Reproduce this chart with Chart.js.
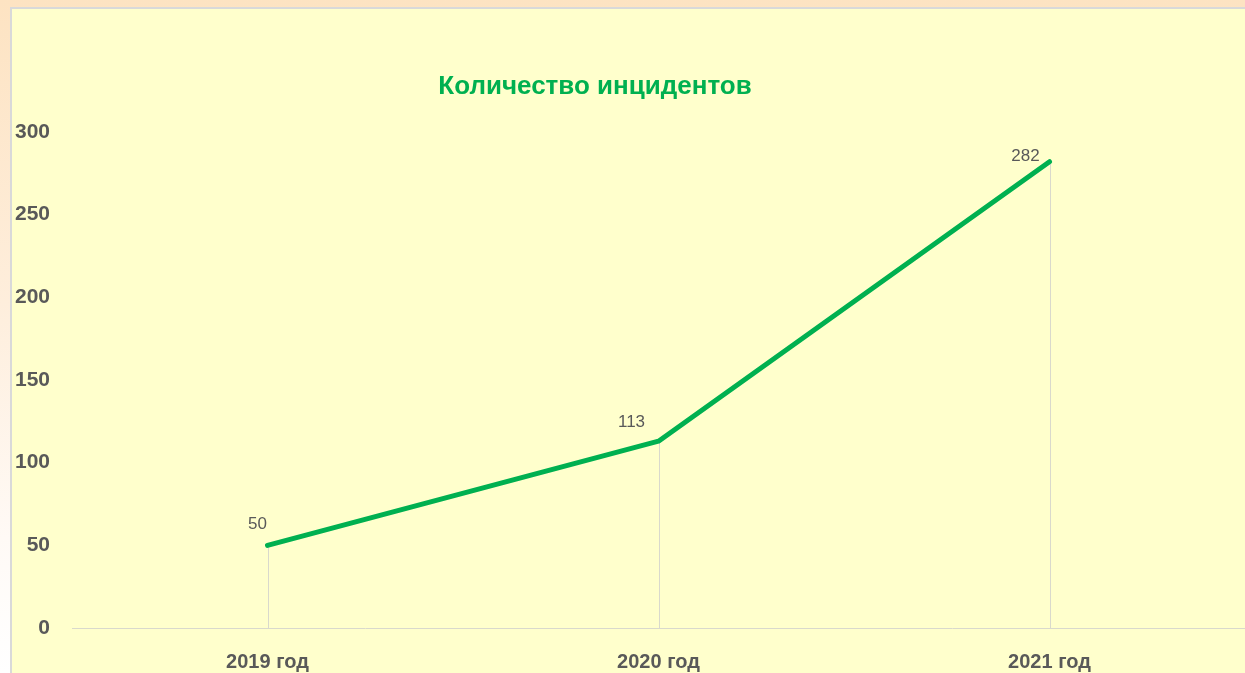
<!DOCTYPE html>
<html>
<head>
<meta charset="utf-8">
<script src="https://cdn.jsdelivr.net/npm/chart.js@4/dist/chart.umd.min.js"></script>
<style>
  html, body { margin: 0; padding: 0; }
  body {
    width: 1245px; height: 673px; overflow: hidden; position: relative;
    background: linear-gradient(to bottom, #FDE3C2 0%, #FEEEDC 45%, #FFFAF6 80%, #FFFFFF 100%);
  }
  #frame {
    position: absolute; left: 10px; top: 7px; width: 1240px; height: 670px;
    border-top: 2px solid #D9D9D9; border-left: 2px solid #D9D9D9;
    background: #FFFFCC;
  }
  #c { position: absolute; left: 12px; top: 9px; }
</style>
</head>
<body>
<div id="frame"></div>
<canvas id="c" width="1233" height="664"></canvas>
<script>
const titleText = 'Количество инцидентов';
const categories = ['2019 год', '2020 год', '2021 год'];
const incidents = [50, 113, 282];
const yTicks = [0, 50, 100, 150, 200, 250, 300];

const GREEN = '#00B050';
const GRAY = '#595959';
const LINE_GRAY = '#D9D9CC';

const dropLines = {
  id: 'dropLines',
  beforeDatasetsDraw(chart) {
    const { ctx, chartArea } = chart;
    const meta = chart.getDatasetMeta(0);
    ctx.save();
    ctx.strokeStyle = LINE_GRAY;
    ctx.lineWidth = 1;
    meta.data.forEach(p => {
      const x = Math.round(p.x) + 0.5;
      ctx.beginPath();
      ctx.moveTo(x, p.y);
      ctx.lineTo(x, chartArea.bottom);
      ctx.stroke();
    });
    ctx.restore();
  }
};

const labelOffsets = [[-10, -21], [-27, -19], [-24, -5]];
const dataLabels = {
  id: 'dataLabels',
  afterDatasetsDraw(chart) {
    const { ctx } = chart;
    const meta = chart.getDatasetMeta(0);
    ctx.save();
    ctx.fillStyle = GRAY;
    ctx.font = '17px "Liberation Sans", Arial, sans-serif';
    ctx.textAlign = 'center';
    ctx.textBaseline = 'middle';
    meta.data.forEach((p, i) => {
      const o = labelOffsets[i];
      ctx.fillText(String(incidents[i]), p.x + o[0], p.y + o[1]);
    });
    ctx.restore();
  }
};

const customTitle = {
  id: 'customTitle',
  afterDraw(chart) {
    const { ctx } = chart;
    ctx.save();
    ctx.fillStyle = GREEN;
    ctx.font = 'bold 26px "Liberation Sans", Arial, sans-serif';
    ctx.textAlign = 'center';
    ctx.textBaseline = 'middle';
    ctx.fillText(titleText, 583, 78);
    ctx.restore();
  }
};

new Chart(document.getElementById('c'), {
  type: 'line',
  data: {
    labels: categories,
    datasets: [{
      data: incidents,
      borderColor: GREEN,
      borderWidth: 5,
      pointRadius: 0,
      borderCapStyle: 'round',
      borderJoinStyle: 'round',
      tension: 0
    }]
  },
  options: {
    responsive: false,
    animation: false,
    layout: { padding: { top: 123, left: 0, right: 0, bottom: 0 } },
    plugins: { legend: { display: false }, tooltip: { enabled: false }, title: { display: false } },
    scales: {
      x: {
        offset: true,
        grid: { display: false, drawTicks: false },
        border: { display: true, color: LINE_GRAY, width: 1 },
        ticks: {
          color: GRAY,
          font: { family: '"Liberation Sans", Arial, sans-serif', size: 20, weight: 'bold' },
          padding: 22,
          maxRotation: 0
        },
        afterFit(s) { s.height = 45; }
      },
      y: {
        min: 0, max: 300,
        afterBuildTicks(s) { s.ticks = yTicks.map(v => ({ value: v })); },
        grid: { display: false, drawTicks: false },
        border: { display: false },
        ticks: {
          color: GRAY,
          font: { family: '"Liberation Sans", Arial, sans-serif', size: 21, weight: 'bold' },
          padding: 22
        },
        afterFit(s) { s.width = 60; }
      }
    }
  },
  plugins: [dropLines, dataLabels, customTitle]
});
</script>
</body>
</html>
